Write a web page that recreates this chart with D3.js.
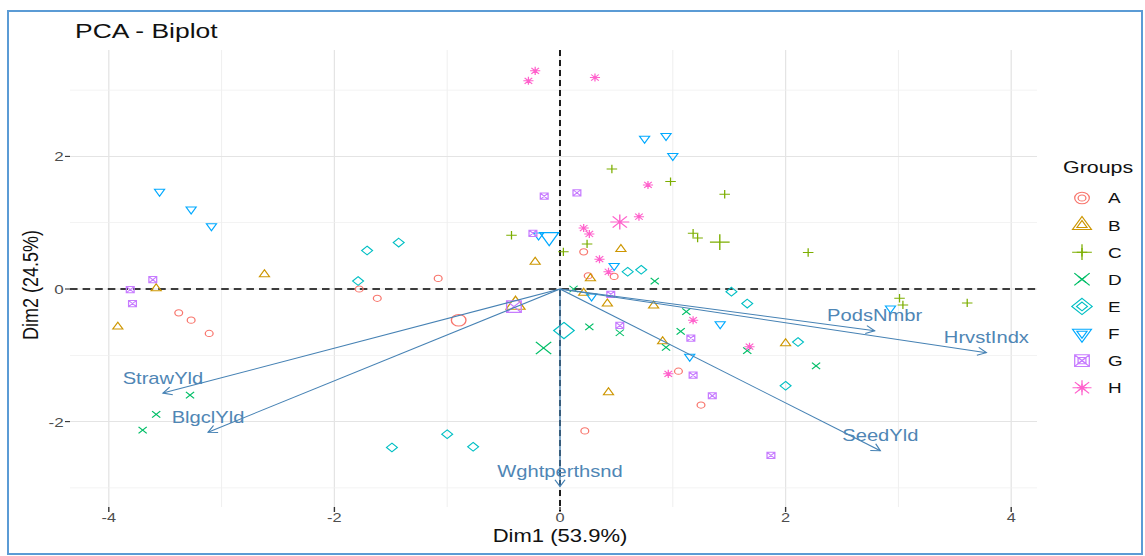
<!DOCTYPE html>
<html>
<head>
<meta charset="utf-8">
<script src="https://cdn.jsdelivr.net/npm/d3@7"></script>
<style>
  body { margin: 0; background: #fff; }
  text { font-family: "Liberation Sans", Arial, sans-serif; }
</style>
</head>
<body>
<svg id="chart" width="1145" height="556"></svg>
<script>
// individuals (Dim1, Dim2) per group
var groupA = [[-3.38,-0.36],[-3.27,-0.47],[-3.11,-0.67],[-1.78,0.00],[-1.62,-0.14],[-1.08,0.16],
              [0.22,-2.14],[1.25,-1.75],[1.05,-1.24],[0.21,0.56],[0.48,0.19],[0.25,0.20]];
var groupB = [[-3.92,-0.57],[-3.58,0.01],[-2.62,0.22],[-0.22,0.41],[0.54,0.60],[0.27,0.16],
              [0.21,-0.06],[0.42,-0.22],[0.83,-0.25],[0.91,-0.79],[2.00,-0.82],[0.43,-1.56]];
var groupC = [[-0.43,0.81],[0.46,1.81],[0.98,1.62],[1.46,1.43],[0.24,0.68],[0.03,0.56],
              [1.18,0.84],[1.22,0.77],[2.20,0.55],[3.01,-0.14],[3.04,-0.24],[3.61,-0.21]];
var groupD = [[-3.28,-1.60],[-3.58,-1.89],[-3.70,-2.13],[0.12,0.00],[1.12,-0.34],[0.26,-0.57],
              [0.53,-0.66],[1.07,-0.64],[0.94,-0.88],[1.66,-0.93],[2.27,-1.16],[0.84,0.12]];
var groupE = [[-1.71,0.58],[-1.43,0.70],[-1.79,0.12],[-1.49,-2.39],[-1.00,-2.19],[-0.77,-2.38],
              [1.52,-0.04],[1.66,-0.22],[2.11,-0.80],[2.00,-1.46],[0.60,0.26],[0.72,0.29]];
var groupF = [[-3.55,1.47],[-3.27,1.20],[-3.09,0.95],[-0.19,0.81],[0.75,2.27],[0.94,2.31],
              [1.00,2.01],[0.48,0.35],[0.28,-0.11],[1.42,-0.53],[1.15,-1.02],[2.93,-0.29]];
var groupG = [[-0.14,1.40],[0.15,1.45],[-0.24,0.84],[-3.61,0.14],[-3.81,-0.01],[-3.79,-0.22],
              [0.45,-0.08],[0.53,-0.55],[1.16,-0.74],[1.18,-1.30],[1.35,-1.61],[1.87,-2.51]];
var groupH = [[-0.22,3.29],[-0.28,3.14],[0.31,3.19],[0.78,1.57],[0.70,1.09],[0.21,0.92],
              [0.26,0.83],[0.35,0.45],[0.43,0.26],[1.18,-0.47],[1.68,-0.87],[0.96,-1.28]];

var groupNames = ["A", "B", "C", "D", "E", "F", "G", "H"];
var groupPoints = [groupA, groupB, groupC, groupD, groupE, groupF, groupG, groupH];
var groupColors = ["#F8766D", "#CD9600", "#7CAE00", "#00BE67", "#00BFC4", "#00A9FF", "#C77CFF", "#FF61CC"];
var groupShapes = ["circle", "triUp", "plus", "cross", "diamond", "triDown", "squareX", "asterisk"];

// variables (loadings arrows)
var varNames = ["StrawYld", "BlgclYld", "Wghtperthsnd", "SeedYld", "PodsNmbr", "HrvstIndx"];
var varDim1 = [-3.52, -3.12, 0.00, 2.84, 2.79, 3.78];
var varDim2 = [-1.57, -2.16, -2.98, -2.44, -0.63, -0.96];

var xTicks = [-4, -2, 0, 2, 4];
var yTicks = [-2, 0, 2];
var xGrid = d3.range(-4, 5);
var yGrid = d3.range(-3, 4);

// the reference picture is stretched sideways, so everything is drawn in a
// squeezed space and widened by S
var S = 1.26;
var panel = { left: 70, right: 1037, top: 50, bottom: 507 };

var x = d3.scaleLinear().domain([-4, 4]).range([108.8 / S, 1011.2 / S]);
var y = d3.scaleLinear().domain([-3, 3]).range([487.9, 90.1]);

var svg = d3.select("#chart");

svg.append("rect")
  .attr("x", 8).attr("y", 11).attr("width", 1134).attr("height", 543)
  .attr("fill", "none").attr("stroke", "#5b9bd5").attr("stroke-width", 2);

var g = svg.append("g").attr("transform", "scale(" + S + ",1)");

var pl = panel.left / S, pr = panel.right / S;

// grid
g.selectAll(".vgrid").data(xGrid).enter().append("line")
  .attr("x1", d => x(d)).attr("x2", d => x(d))
  .attr("y1", panel.top).attr("y2", panel.bottom)
  .attr("stroke", d => d % 2 === 0 ? "#e4e4e4" : "#efefef")
  .attr("stroke-width", d => d % 2 === 0 ? 1 : 0.8);

g.selectAll(".hgrid").data(yGrid).enter().append("line")
  .attr("x1", pl).attr("x2", pr)
  .attr("y1", d => y(d)).attr("y2", d => y(d))
  .attr("stroke", d => d % 2 === 0 ? "#e4e4e4" : "#efefef")
  .attr("stroke-width", d => d % 2 === 0 ? 1 : 0.8);

// ticks + labels
g.selectAll(".xtick").data(xTicks).enter().append("line")
  .attr("x1", d => x(d)).attr("x2", d => x(d))
  .attr("y1", panel.bottom).attr("y2", panel.bottom + 5)
  .attr("stroke", "#333").attr("stroke-width", 1.1);
g.selectAll(".xlab").data(xTicks).enter().append("text")
  .attr("x", d => x(d)).attr("y", 522)
  .attr("text-anchor", "middle").attr("font-size", 13).attr("fill", "#4d4d4d")
  .text(d => d);

g.selectAll(".ytick").data(yTicks).enter().append("line")
  .attr("x1", pl - 4).attr("x2", pl)
  .attr("y1", d => y(d)).attr("y2", d => y(d))
  .attr("stroke", "#333").attr("stroke-width", 1.1);
g.selectAll(".ylab").data(yTicks).enter().append("text")
  .attr("x", pl - 5).attr("y", d => y(d) + 5)
  .attr("text-anchor", "end").attr("font-size", 13.5).attr("fill", "#4d4d4d")
  .text(d => d);

// dashed zero lines
g.append("line").attr("x1", pl).attr("x2", pr).attr("y1", y(0)).attr("y2", y(0))
  .attr("stroke", "#000").attr("stroke-width", 1.6).attr("stroke-dasharray", "6,4");
g.append("line").attr("x1", x(0)).attr("x2", x(0)).attr("y1", panel.top).attr("y2", panel.bottom + 4)
  .attr("stroke", "#000").attr("stroke-width", 1.4).attr("stroke-dasharray", "6,4");

function shapePath(type, s) {
  var R, a;
  switch (type) {
    case "circle":
      return "M" + (-s) + ",0A" + s + "," + s + " 0 1,0 " + s + ",0A" + s + "," + s + " 0 1,0 " + (-s) + ",0Z";
    case "triUp":
      R = s * 1.5;
      return "M0," + (-R) + "L" + (R * 0.866) + "," + (R * 0.5) + "L" + (-R * 0.866) + "," + (R * 0.5) + "Z";
    case "triDown":
      R = s * 1.5;
      return "M0," + R + "L" + (R * 0.866) + "," + (-R * 0.5) + "L" + (-R * 0.866) + "," + (-R * 0.5) + "Z";
    case "plus":
      a = s * 1.35;
      return "M" + (-a) + ",0H" + a + "M0," + (-a) + "V" + a;
    case "cross":
      a = s * 1.05;
      return "M" + (-a) + "," + (-a) + "L" + a + "," + a + "M" + (-a) + "," + a + "L" + a + "," + (-a);
    case "diamond":
      a = s * 1.4;
      return "M0," + (-a) + "L" + a + ",0L0," + a + "L" + (-a) + ",0Z";
    case "squareX":
      a = s;
      return "M" + (-a) + "," + (-a) + "H" + a + "V" + a + "H" + (-a) + "Z" +
        "M" + (-a) + "," + (-a) + "L" + a + "," + a + "M" + (-a) + "," + a + "L" + a + "," + (-a);
    case "asterisk":
      a = s * 1.3;
      var b = a * 0.75;
      return "M" + (-a) + ",0H" + a + "M0," + (-a) + "V" + a +
        "M" + (-b) + "," + (-b) + "L" + b + "," + b + "M" + (-b) + "," + b + "L" + b + "," + (-b);
  }
}

var small = 3.1, large = 5.8;

// individuals
groupPoints.forEach((pts, i) => {
  g.append("g").selectAll("path").data(pts).enter().append("path")
    .attr("transform", d => "translate(" + x(d[0]) + "," + y(d[1]) + ")")
    .attr("d", shapePath(groupShapes[i], small))
    .attr("fill", "none").attr("stroke", groupColors[i]).attr("stroke-width", 1);
});

// group mean points
var centroids = groupPoints.map(pts => [d3.mean(pts, d => d[0]), d3.mean(pts, d => d[1])]);
g.append("g").selectAll("path").data(centroids).enter().append("path")
  .attr("transform", d => "translate(" + x(d[0]) + "," + y(d[1]) + ")")
  .attr("d", (d, i) => shapePath(groupShapes[i], large))
  .attr("fill", "none").attr("stroke", (d, i) => groupColors[i]).attr("stroke-width", 1.1);

// variable arrows
var arrows = g.append("g");
varNames.forEach((name, i) => {
  var x0 = x(0), y0 = y(0), x1 = x(varDim1[i]), y1 = y(varDim2[i]);
  var ang = Math.atan2(y1 - y0, x1 - x0), L = 8, h = Math.PI / 6;
  arrows.append("line").attr("x1", x0).attr("y1", y0).attr("x2", x1).attr("y2", y1)
    .attr("stroke", "steelblue").attr("stroke-width", 1);
  arrows.append("path")
    .attr("d", "M" + (x1 - L * Math.cos(ang - h)) + "," + (y1 - L * Math.sin(ang - h)) +
      "L" + x1 + "," + y1 +
      "L" + (x1 - L * Math.cos(ang + h)) + "," + (y1 - L * Math.sin(ang + h)))
    .attr("fill", "none").attr("stroke", "steelblue").attr("stroke-width", 1);
  arrows.append("text")
    .attr("x", x1).attr("y", y1 - 9.5)
    .attr("text-anchor", "middle").attr("font-size", 16).attr("fill", "#4f86b5")
    .text(name);
});

// titles
g.append("text").attr("x", 75 / S).attr("y", 38)
  .attr("font-size", 21).attr("fill", "#111").text("PCA - Biplot");
g.append("text").attr("x", 560 / S).attr("y", 542)
  .attr("text-anchor", "middle").attr("font-size", 17.5).attr("fill", "#111").text("Dim1 (53.9%)");
g.append("text").attr("transform", "translate(" + (38 / S) + ",285) rotate(-90)")
  .attr("text-anchor", "middle").attr("font-size", 18).attr("fill", "#111").text("Dim2 (24.5%)");

// legend
var leg = g.append("g");
leg.append("text").attr("x", 1063 / S).attr("y", 173)
  .attr("font-size", 17).attr("fill", "#111").text("Groups");
groupNames.forEach((name, i) => {
  var cy = 198 + i * 27.1;
  [large, small].forEach(s => {
    leg.append("path")
      .attr("transform", "translate(" + (1082 / S) + "," + cy + ")")
      .attr("d", shapePath(groupShapes[i], s))
      .attr("fill", "none").attr("stroke", groupColors[i]).attr("stroke-width", 1);
  });
  leg.append("text").attr("x", 1108 / S).attr("y", cy + 5.5)
    .attr("font-size", 15).attr("fill", "#111").text(name);
});
</script>
</body>
</html>
